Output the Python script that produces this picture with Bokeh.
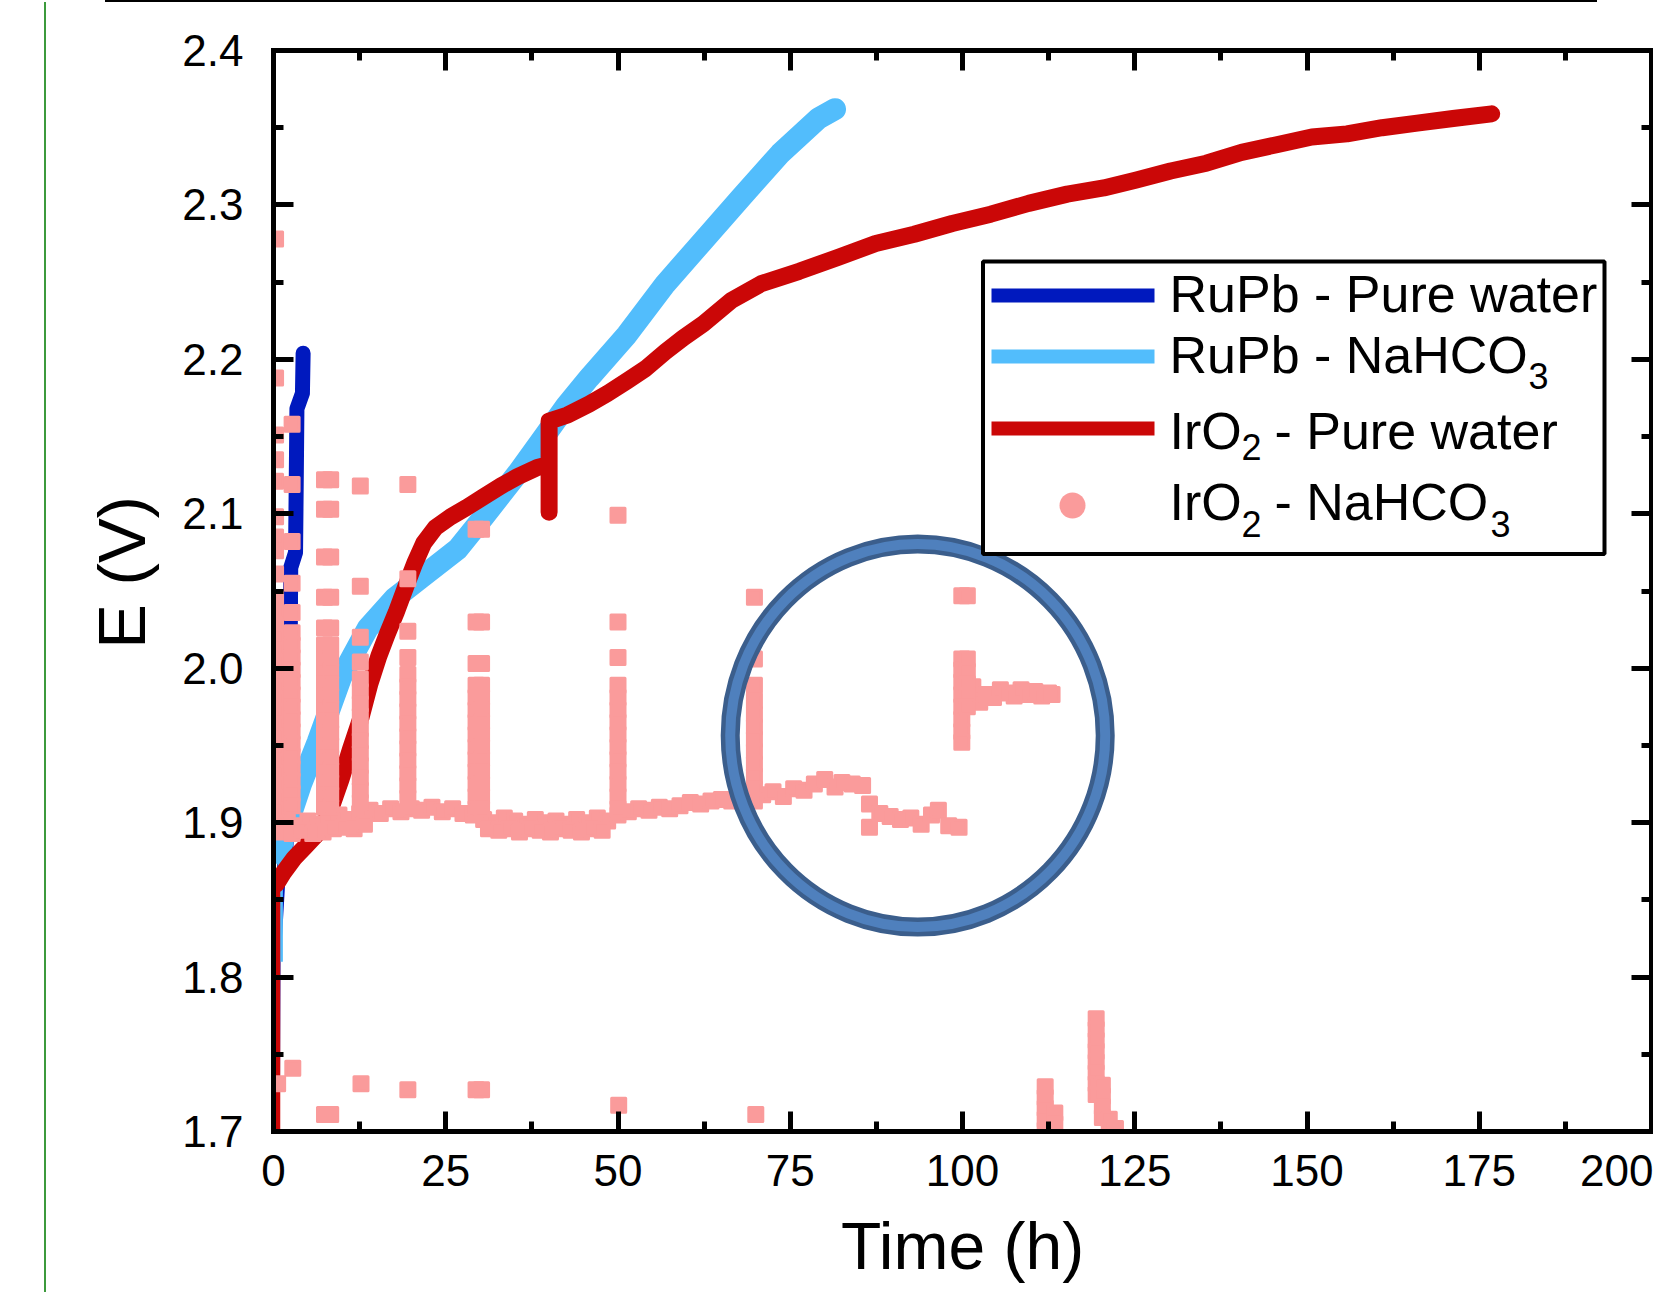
from bokeh.plotting import figure
from bokeh.models import (Range1d, LinearAxis, FixedTicker, CustomJSTickFormatter,
                          Label, BoxAnnotation, Div)
from bokeh.layouts import row, column
from bokeh.embed import file_html
from bokeh.resources import INLINE

FONT = "Liberation Sans"

# ---------------- data ----------------
x_ticks = [0, 25, 50, 75, 100, 125, 150, 175, 200]
x_minor = [12.5, 37.5, 62.5, 87.5, 112.5, 137.5, 162.5, 187.5]
y_ticks = [1.7, 1.8, 1.9, 2.0, 2.1, 2.2, 2.3, 2.4]
y_minor = [1.75, 1.85, 1.95, 2.05, 2.15, 2.25, 2.35]

# RuPb - Pure water
rupb_pw_t = [0.7, 0.8, 1.6, 2.3, 2.4, 2.5, 3.2, 3.3, 3.4, 4.2, 4.3]
rupb_pw_E = [1.700, 1.810, 1.870, 1.920, 2.000, 2.065, 2.075, 2.120, 2.168, 2.178, 2.204]

# RuPb - NaHCO3
rupb_nh_t = [1.0, 1.0, 1.6, 2.5, 4.0, 6.4, 9.8, 13.7, 17.5, 21.8, 26.7, 30.5, 35.4, 39.3,
             42.5, 45.8, 51.3, 56.9, 62.4, 67.9, 73.5, 79.1, 81.5]
rupb_nh_E = [1.810, 1.880, 1.895, 1.905, 1.925, 1.952, 1.994, 2.026, 2.045, 2.060, 2.077, 2.098,
             2.126, 2.150, 2.170, 2.188, 2.216, 2.249, 2.277, 2.305, 2.333, 2.356, 2.362]

# IrO2 - Pure water
iro2_pw_t = [0.4, 0.4, 1.5, 3.0, 4.5, 6.4, 8.0, 9.8, 11.2, 12.7, 14.0, 15.3, 16.5, 17.8, 19.3,
             20.5, 21.8, 23.5, 25.7, 28.0, 30.5, 33.0, 35.4, 38.3, 40.0, 40.0, 40.0, 42.7, 45.8,
             48.5, 51.3, 54.0, 56.9, 59.5, 62.4, 66.4, 70.8, 76.3, 81.9, 87.4, 93.0, 98.5, 104.1,
             109.6, 115.2, 120.5, 125.1, 130.2, 135.4, 140.5, 145.6, 150.7, 155.8, 160.9, 166.0,
             171.2, 176.8]
iro2_pw_E = [1.700, 1.860, 1.868, 1.877, 1.884, 1.893, 1.905, 1.928, 1.948, 1.968, 1.990, 2.008,
             2.022, 2.036, 2.054, 2.068, 2.081, 2.091, 2.098, 2.104, 2.111, 2.118, 2.124, 2.130,
             2.132, 2.101, 2.160, 2.164, 2.171, 2.178, 2.186, 2.194, 2.205, 2.214, 2.223, 2.238,
             2.249, 2.257, 2.266, 2.275, 2.281, 2.288, 2.294, 2.301, 2.307, 2.311, 2.316, 2.322,
             2.327, 2.334, 2.339, 2.344, 2.346, 2.350, 2.353, 2.356, 2.359]

# IrO2 - NaHCO3 (scattered points), grouped by feature
base_t = [0.5, 2.0, 3.5, 5.0, 6.5, 8.0, 9.5, 11.0, 12.5, 14.0, 15.5, 17.0, 18.5, 20.0, 21.5,
          23.0, 24.5, 26.0, 27.5, 29.0, 30.5, 32.0, 33.5, 35.0, 36.5, 38.0, 39.5, 41.0, 42.5,
          44.0, 45.5, 47.0, 48.5, 50.0, 51.5, 53.0, 54.5, 56.0, 57.5, 59.0, 60.5, 62.0, 63.5,
          65.0, 66.5, 68.0, 69.5, 71.0, 72.5, 74.0, 75.5, 77.0, 78.5, 80.0, 81.5, 82.5, 84.0,
          85.5, 86.5, 86.5, 88.0, 89.5, 91.0, 92.5, 94.0, 95.5, 96.5, 98.0, 99.5,
          101.5, 102.5, 103.5, 104.5, 105.5, 106.5, 107.5, 108.5, 109.5, 110.5, 111.5, 112.5, 113.0]
base_E = [1.900, 1.902, 1.898, 1.901, 1.899, 1.903, 1.905, 1.902, 1.906, 1.908, 1.906, 1.909,
          1.907, 1.909, 1.908, 1.910, 1.907, 1.909, 1.906, 1.905, 1.902, 1.900, 1.903, 1.901,
          1.899, 1.902, 1.900, 1.901, 1.899, 1.902, 1.900, 1.903, 1.901, 1.905, 1.907, 1.909,
          1.908, 1.910, 1.909, 1.911, 1.913, 1.912, 1.914, 1.915, 1.914, 1.916, 1.915, 1.918,
          1.920, 1.917, 1.922, 1.921, 1.925, 1.928, 1.923, 1.926, 1.925, 1.924, 1.912, 1.897,
          1.906, 1.904, 1.902, 1.903, 1.899, 1.905, 1.908, 1.898, 1.897,
          1.988, 1.978, 1.983, 1.981, 1.986, 1.984, 1.982, 1.986, 1.983, 1.985, 1.982, 1.984, 1.983]

# lower edge of the band where it is thicker
base2_t = [1.2, 2.7, 4.2, 5.7, 7.2, 8.7, 10.2, 11.7, 13.2, 31.2, 32.7, 34.2, 35.7, 37.2, 38.7,
           40.2, 41.7, 43.2, 44.7, 46.2, 47.7]
base2_E = [1.894, 1.893, 1.895, 1.893, 1.894, 1.896, 1.897, 1.896, 1.899, 1.896, 1.895, 1.896,
           1.894, 1.896, 1.895, 1.894, 1.896, 1.895, 1.894, 1.896, 1.895]

spike_t = ([0.3, 0.3, 0.3, 0.3, 0.3, 0.3, 0.3, 0.3, 0.3, 0.3, 0.3, 0.3, 0.3, 0.3, 0.3, 0.3, 0.3,
            0.3, 0.3, 0.3, 0.3, 0.3, 0.3, 0.3, 0.3, 0.3, 0.3] +
           [2.7, 2.7, 2.7, 2.7, 2.7, 2.7, 2.7, 2.7, 2.7, 2.7, 2.7, 2.7, 2.7, 2.7, 2.7, 2.7, 2.7,
            2.7, 2.7, 2.7] +
           [7.4, 7.4, 7.4, 7.4, 7.4, 7.4, 7.4, 7.4, 7.4, 7.4, 7.4, 7.4, 7.4, 7.4, 7.4, 7.4, 7.4,
            7.4, 7.4] +
           [8.3, 8.3, 8.3, 8.3, 8.3, 8.3, 8.3, 8.3, 8.3, 8.3, 8.3, 8.3, 8.3, 8.3, 8.3, 8.3, 8.3,
            8.3, 8.3] +
           [12.6, 12.6, 12.6, 12.6, 12.6, 12.6, 12.6, 12.6, 12.6, 12.6, 12.6, 12.6, 12.6, 12.6,
            12.6] +
           [19.5, 19.5, 19.5, 19.5, 19.5, 19.5, 19.5, 19.5, 19.5, 19.5, 19.5, 19.5, 19.5, 19.5,
            19.5] +
           [29.4, 29.4, 29.4, 29.4, 29.4, 29.4, 29.4, 29.4, 29.4, 29.4, 29.4, 29.4, 29.4, 29.4] +
           [30.2, 30.2, 30.2, 30.2, 30.2, 30.2, 30.2, 30.2, 30.2, 30.2, 30.2, 30.2, 30.2, 30.2] +
           [50.0, 50.0, 50.0, 50.0, 50.0, 50.0, 50.0, 50.0, 50.0, 50.0, 50.0, 50.0, 50.0, 50.0] +
           [69.8, 69.8, 69.8, 69.8, 69.8, 69.8, 69.8, 69.8, 69.8, 69.8, 69.8, 69.8] +
           [99.9, 99.9, 99.9, 99.9, 99.9, 99.9, 99.9, 99.9, 99.9] +
           [100.7, 100.7, 100.7, 100.7, 100.7, 100.7])
spike_E = ([2.278, 2.188, 2.151, 2.135, 2.121, 2.098, 2.085, 2.076, 2.061, 2.045, 2.036, 2.028,
            2.020, 2.012, 2.004, 1.996, 1.988, 1.980, 1.972, 1.964, 1.956, 1.948, 1.940, 1.932,
            1.924, 1.916, 1.908] +
           [2.158, 2.119, 2.082, 2.055, 2.036, 2.023, 2.015, 2.007, 1.999, 1.991, 1.983, 1.975,
            1.967, 1.959, 1.951, 1.943, 1.935, 1.927, 1.919, 1.911] +
           [2.122, 2.103, 2.072, 2.046, 2.026, 2.015, 2.006, 1.998, 1.990, 1.982, 1.974, 1.966,
            1.958, 1.950, 1.942, 1.934, 1.926, 1.918, 1.910] +
           [2.122, 2.103, 2.072, 2.046, 2.026, 2.015, 2.006, 1.998, 1.990, 1.982, 1.974, 1.966,
            1.958, 1.950, 1.942, 1.934, 1.926, 1.918, 1.910] +
           [2.118, 2.053, 2.020, 2.004, 1.993, 1.985, 1.977, 1.969, 1.961, 1.953, 1.945, 1.937,
            1.929, 1.921, 1.913] +
           [2.119, 2.058, 2.024, 2.007, 1.996, 1.988, 1.980, 1.972, 1.964, 1.956, 1.948, 1.940,
            1.932, 1.924, 1.916] +
           [2.090, 2.030, 2.003, 1.989, 1.981, 1.973, 1.965, 1.957, 1.949, 1.941, 1.933, 1.925,
            1.917, 1.909] +
           [2.090, 2.030, 2.003, 1.989, 1.981, 1.973, 1.965, 1.957, 1.949, 1.941, 1.933, 1.925,
            1.917, 1.909] +
           [2.099, 2.030, 2.007, 1.989, 1.981, 1.973, 1.965, 1.957, 1.949, 1.941, 1.933, 1.925,
            1.917, 1.909] +
           [2.046, 2.006, 1.989, 1.979, 1.970, 1.962, 1.954, 1.946, 1.938, 1.930, 1.922, 1.914] +
           [2.047, 2.006, 1.999, 1.991, 1.983, 1.975, 1.967, 1.959, 1.952] +
           [2.047, 2.006, 1.998, 1.990, 1.982, 1.975])

low_t = [0.6, 2.8, 7.4, 8.3, 12.7, 19.5, 29.4, 30.2, 50.1, 70.0,
         112.0, 112.0, 112.0, 112.0, 112.0, 113.4, 113.4,
         119.4, 119.4, 119.4, 119.4, 119.4, 119.4, 119.4, 119.4,
         120.3, 120.3, 120.3, 120.3, 121.3, 121.3, 122.2]
low_E = [1.731, 1.741, 1.711, 1.711, 1.731, 1.727, 1.727, 1.727, 1.717, 1.711,
         1.729, 1.722, 1.715, 1.708, 1.701, 1.712, 1.705,
         1.773, 1.766, 1.759, 1.752, 1.745, 1.738, 1.731, 1.724,
         1.730, 1.723, 1.716, 1.709, 1.708, 1.701, 1.702]

iro2_nh_t = base_t + base2_t + spike_t + low_t
iro2_nh_E = base_E + base2_E + spike_E + low_E

# highlight ring (centre in data units)
ring_t = [93.5]
ring_E = [1.9564]

# ---------------- styles ----------------
DARK = "#0019BE"
LIGHT = "#52BDFC"
RED = "#CB0707"
PINK = "#FA9B9B"
RING_DARK = "#3B5E8C"
RING_LIGHT = "#4F80BD"

fig = figure(width=1607, height=1290, x_range=Range1d(0, 200), y_range=Range1d(1.7, 2.4),
             output_backend="svg", toolbar_location=None,
             min_border_left=227, min_border_right=2, min_border_top=48, min_border_bottom=161)
fig.grid.visible = False
fig.outline_line_color = None
fig.background_fill_color = "white"
fig.border_fill_color = "white"


def style_axis(ax):
    ax.axis_line_width = 5
    ax.axis_line_color = "black"
    ax.axis_line_cap = "square"
    ax.major_tick_in = 20
    ax.major_tick_out = 0
    ax.minor_tick_in = 10
    ax.minor_tick_out = 0
    ax.major_tick_line_width = 5
    ax.minor_tick_line_width = 5
    ax.major_tick_line_color = "black"
    ax.minor_tick_line_color = "black"
    ax.major_label_text_font = FONT
    ax.major_label_text_color = "black"


xa = fig.xaxis[0]
xa.ticker = FixedTicker(ticks=x_ticks, minor_ticks=x_minor)
style_axis(xa)
xa.major_label_text_font_size = "44px"
xa.major_label_standoff = 23
xa.axis_label = "Time (h)"
xa.axis_label_text_font = FONT
xa.axis_label_text_font_size = "66px"
xa.axis_label_text_font_style = "normal"
xa.axis_label_text_color = "black"
xa.axis_label_standoff = 20

ya = fig.yaxis[0]
ya.ticker = FixedTicker(ticks=y_ticks, minor_ticks=y_minor)
ya.formatter = CustomJSTickFormatter(code="return tick.toFixed(1);")
style_axis(ya)
ya.major_label_text_font_size = "44px"
ya.major_label_standoff = 30
ya.axis_label = "\u00a0\u00a0E (V)"
ya.axis_label_text_font = FONT
ya.axis_label_text_font_size = "67px"
ya.axis_label_text_font_style = "normal"
ya.axis_label_text_color = "black"
ya.axis_label_standoff = 20

top = LinearAxis(ticker=FixedTicker(ticks=x_ticks, minor_ticks=x_minor),
                 formatter=CustomJSTickFormatter(code="return '';"))
style_axis(top)
top.major_label_standoff = 0
top.major_label_text_font_size = "1px"
fig.add_layout(top, "above")

right = LinearAxis(ticker=FixedTicker(ticks=y_ticks, minor_ticks=y_minor),
                   formatter=CustomJSTickFormatter(code="return '';"))
style_axis(right)
right.major_label_standoff = 0
right.major_label_text_font_size = "1px"
fig.add_layout(right, "right")

# ---------------- series ----------------
fig.line(rupb_pw_t, rupb_pw_E, line_color=DARK, line_width=3)
fig.line(rupb_pw_t[2:], rupb_pw_E[2:], line_color=DARK, line_width=15,
         line_join="round", line_cap="round")

fig.line(rupb_nh_t, rupb_nh_E, line_color=LIGHT, line_width=5)
fig.line(rupb_nh_t[1:], rupb_nh_E[1:], line_color=LIGHT, line_width=22,
         line_join="round", line_cap="round")

fig.line(iro2_pw_t, iro2_pw_E, line_color=RED, line_width=8)
fig.line(iro2_pw_t[1:], iro2_pw_E[1:], line_color=RED, line_width=17,
         line_join="round", line_cap="round")

fig.scatter(iro2_nh_t, iro2_nh_E, marker="square", size=14, fill_color=PINK,
            line_color=PINK, line_width=3, line_join="round")

# highlight ring
fig.ellipse(x=ring_t, y=ring_E, width=375, height=383, width_units="screen",
            height_units="screen", fill_color=None, line_color=RING_DARK, line_width=19)
fig.ellipse(x=ring_t, y=ring_E, width=375, height=383, width_units="screen",
            height_units="screen", fill_color=None, line_color=RING_LIGHT, line_width=10)


# ---------------- legend (built by hand to allow subscripts) ----------------
def sbox(l, r, b, t, **kw):
    return BoxAnnotation(left=l, right=r, bottom=b, top=t, left_units="screen",
                         right_units="screen", bottom_units="screen", top_units="screen", **kw)


fig.add_layout(sbox(709.5, 1331, 577.5, 870, fill_color="white", fill_alpha=1,
                    line_color="black", line_width=4, line_alpha=1))
fig.add_layout(sbox(718, 881, 829, 843, fill_color=DARK, fill_alpha=1, line_color=None))
fig.add_layout(sbox(718, 881, 768, 782, fill_color=LIGHT, fill_alpha=1, line_color=None))
fig.add_layout(sbox(718, 881, 696, 710, fill_color=RED, fill_alpha=1, line_color=None))
fig.add_layout(sbox(786, 812, 613, 639, fill_color=PINK, fill_alpha=1, line_color=None,
                    border_radius=13))


def txt(x, y, s, size):
    fig.add_layout(Label(x=x, y=y, x_units="screen", y_units="screen", text=s,
                         text_font=FONT, text_font_size=size, text_align="left",
                         text_baseline="middle", text_color="black"))


txt(896, 838, "RuPb - Pure water", "52px")
txt(896, 777, "RuPb - NaHCO", "52px")
txt(1255, 756, "3", "36px")
txt(896, 701, "IrO", "52px")
txt(968, 685, "2", "36px")
txt(1001, 701, "- Pure water", "52px")
txt(896, 630, "IrO", "52px")
txt(968, 608, "2", "36px")
txt(1001, 630, "- NaHCO", "52px")
txt(1217, 608, "3", "36px")

# ---------------- page decorations (scan border lines) ----------------
top_gap = Div(text="", width=105, height=2, margin=0)
top_rule = Div(text="", width=1492, height=2, margin=0, styles={"background-color": "black"})
left_gap = Div(text="", width=44, height=1290, margin=0)
left_rule = Div(text="", width=2, height=1290, margin=0, styles={"background-color": "#3C9A3C"})

p = column(row(top_gap, top_rule, spacing=0), row(left_gap, left_rule, fig, spacing=0),
           spacing=0)

open("out.html", "w").write(file_html(p, INLINE))
